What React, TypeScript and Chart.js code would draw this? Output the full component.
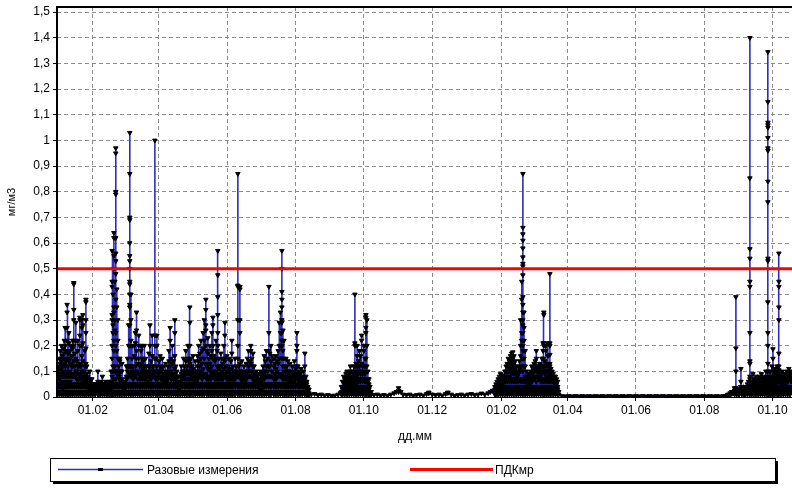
import React, { useEffect, useRef } from 'react';
import { Chart, registerables } from 'chart.js';

Chart.register(...registerables);

// Day 0 = 1 January of the first year
const xTickDays = [31, 90, 151, 212, 273, 334, 396, 455, 516, 577, 638];
const xTickLabels = ['01.02', '01.04', '01.06', '01.08', '01.10', '01.12', '01.02', '01.04', '01.06', '01.08', '01.10'];
const yTicks = [0, 0.1, 0.2, 0.3, 0.4, 0.5, 0.6, 0.7, 0.8, 0.9, 1, 1.1, 1.2, 1.3, 1.4, 1.5];
const pdkValue = 0.5;
const seriesLabel = 'Разовые измерения';
const pdkLabel = 'ПДКмр';

// rows: [day, measurement1, measurement2, ...]
const winter1: number[][] = [
  [-0.5, 0.01, 0.04, 0.07, 0.1, 0.05], [0.3, 0.02, 0.05, 0.09, 0.12, 0.08], [1.2, 0.01, 0.04, 0.07, 0.15, 0.11],
  [2, 0.02, 0.05, 0.09, 0.18, 0.13], [3, 0.01, 0.04, 0.08, 0.2, 0.14, 0.11], [3.8, 0.03, 0.06, 0.1, 0.16, 0.12],
  [4.6, 0.01, 0.04, 0.08, 0.19, 0.15], [5.5, 0.02, 0.05, 0.09, 0.22, 0.17, 0.13], [6.3, 0.01, 0.04, 0.08, 0.27, 0.2, 0.12],
  [7.2, 0.02, 0.06, 0.1, 0.18, 0.14], [8, 0.01, 0.04, 0.08, 0.36, 0.33, 0.27, 0.22, 0.15], [8.8, 0.02, 0.05, 0.09, 0.17, 0.12],
  [9.6, 0.01, 0.04, 0.08, 0.25, 0.21, 0.14], [10.5, 0.02, 0.06, 0.1, 0.18, 0.15], [11.3, 0.01, 0.04, 0.08, 0.2, 0.13],
  [12.2, 0.02, 0.05, 0.09, 0.16, 0.12], [13, 0.01, 0.04, 0.08, 0.22, 0.19, 0.12],
  [14, 0.02, 0.05, 0.09, 0.445, 0.44, 0.34, 0.3, 0.22, 0.2, 0.14], [14.9, 0.01, 0.04, 0.08, 0.17, 0.12],
  [15.8, 0.02, 0.05, 0.1, 0.29, 0.22, 0.15], [16.7, 0.01, 0.04, 0.07, 0.14, 0.1], [17.6, 0.02, 0.05, 0.09, 0.22, 0.18, 0.12],
  [18.5, 0.01, 0.04, 0.07, 0.12, 0.09], [19.4, 0.02, 0.05, 0.09, 0.31, 0.3, 0.24, 0.2, 0.13], [20.3, 0.01, 0.04, 0.07, 0.12, 0.09],
  [21.2, 0.02, 0.05, 0.1, 0.3, 0.27, 0.2, 0.16], [22.1, 0.01, 0.04, 0.08, 0.32, 0.28, 0.21, 0.14], [23, 0.02, 0.05, 0.08, 0.1, 0.06],
  [23.9, 0.01, 0.04, 0.07, 0.18, 0.12], [24.8, 0.02, 0.05, 0.09, 0.38, 0.37, 0.3, 0.25, 0.19, 0.13],
  [25.6, 0.01, 0.04, 0.07, 0.12, 0.09], [26.5, 0.02, 0.05, 0.08, 0.06], [27.4, 0.01, 0.03, 0.06, 0.04], [28.3, 0.02, 0.05, 0.1, 0.07],
  [29.2, 0.01, 0.03, 0.05, 0.03], [30.1, 0.02, 0.04, 0.07, 0.05],
  [31, 0.01, 0.03, 0.05, 0.02], [32, 0.02, 0.04, 0.05, 0.03], [33, 0.01, 0.03, 0.04, 0.02], [34, 0.02, 0.04, 0.05, 0.03],
  [35.5, 0.01, 0.03, 0.06, 0.1, 0.04], [36.5, 0.02, 0.04, 0.05, 0.03], [37.5, 0.01, 0.03, 0.04, 0.02], [38.5, 0.02, 0.04, 0.06, 0.03],
  [39.5, 0.01, 0.03, 0.05, 0.08, 0.04], [40.5, 0.02, 0.04, 0.05, 0.03], [41.5, 0.01, 0.03, 0.05, 0.02], [42.5, 0.02, 0.04, 0.06, 0.03],
  [43.5, 0.01, 0.03, 0.04, 0.02], [44.5, 0.02, 0.04, 0.05, 0.03], [45.5, 0.01, 0.03, 0.06, 0.04], [46.5, 0.02, 0.04, 0.05, 0.03],
  [47.3, 0.01, 0.03, 0.06, 0.1, 0.05],
];

const spring1: number[][] = [
  [48.2, 0.01, 0.04, 0.08, 0.2, 0.32, 0.43, 0.57, 0.45, 0.3, 0.15], [49, 0.02, 0.05, 0.12, 0.25, 0.4, 0.28, 0.1],
  [49.8, 0.01, 0.04, 0.07, 0.18, 0.33, 0.5, 0.64, 0.62, 0.55, 0.35, 0.22], [50.6, 0.02, 0.05, 0.1, 0.3, 0.45, 0.26, 0.12],
  [51.5, 0.01, 0.04, 0.07, 0.2, 0.53, 0.56, 0.62, 0.79, 0.8, 0.95, 0.97, 0.48, 0.38, 0.25, 0.1],
  [52.4, 0.02, 0.05, 0.09, 0.35, 0.42, 0.18], [53.3, 0.01, 0.04, 0.1, 0.22, 0.3, 0.15], [54.2, 0.02, 0.05, 0.08, 0.12, 0.09],
  [55.1, 0.01, 0.04, 0.07, 0.15, 0.14, 0.1], [56, 0.02, 0.05, 0.1, 0.06], [57, 0.01, 0.04, 0.07, 0.13, 0.1], [58, 0.02, 0.04, 0.06],
  [59, 0.01, 0.03, 0.05, 0.04], [60, 0.02, 0.04, 0.06], [61, 0.01, 0.04, 0.07, 0.12, 0.08], [62, 0.02, 0.05, 0.1, 0.15, 0.12],
  [63, 0.01, 0.04, 0.08, 0.2, 0.28, 0.12],
  [64, 0.02, 0.05, 0.09, 0.35, 0.36, 0.44, 0.45, 0.5, 0.53, 0.55, 0.6, 0.69, 0.7, 0.87, 1.03, 0.4, 0.28, 0.2, 0.12],
  [65, 0.01, 0.04, 0.08, 0.3, 0.4, 0.22, 0.12], [66, 0.02, 0.05, 0.1, 0.15, 0.2, 0.12], [67, 0.01, 0.04, 0.07, 0.12, 0.09],
  [68, 0.02, 0.05, 0.1, 0.2, 0.16], [69, 0.01, 0.04, 0.08, 0.25, 0.21, 0.12], [70, 0.02, 0.05, 0.09, 0.18, 0.33, 0.26, 0.15],
  [71, 0.01, 0.04, 0.07, 0.13, 0.1], [72, 0.02, 0.05, 0.09, 0.2, 0.24, 0.15], [73, 0.01, 0.04, 0.07, 0.12, 0.09],
  [74, 0.02, 0.05, 0.08, 0.18, 0.2, 0.13], [75, 0.01, 0.04, 0.07, 0.2, 0.15, 0.1], [76, 0.02, 0.05, 0.09, 0.14, 0.11],
  [77, 0.01, 0.04, 0.07, 0.2, 0.12], [78, 0.02, 0.05, 0.08, 0.15, 0.1], [79, 0.01, 0.04, 0.07, 0.12, 0.09],
  [80, 0.02, 0.05, 0.08, 0.1, 0.06], [81, 0.01, 0.04, 0.08, 0.17, 0.12], [82, 0.02, 0.05, 0.1, 0.28, 0.2, 0.12],
  [83, 0.01, 0.04, 0.07, 0.14, 0.09], [84, 0.02, 0.05, 0.1, 0.24, 0.16, 0.12], [85, 0.01, 0.04, 0.08, 0.12, 0.09],
  [86.4, 0.02, 0.05, 0.08, 0.2, 1.0, 0.24, 0.15, 0.1], [87.3, 0.01, 0.04, 0.07, 0.15, 0.1], [88.2, 0.02, 0.05, 0.08, 0.24, 0.2, 0.12],
  [89, 0.01, 0.04, 0.07, 0.1, 0.08], [90, 0.02, 0.05, 0.09, 0.14, 0.1], [91, 0.01, 0.04, 0.08, 0.16, 0.12], [92, 0.02, 0.05, 0.1, 0.07],
  [93, 0.01, 0.04, 0.07, 0.15, 0.11], [94, 0.02, 0.05, 0.08, 0.12, 0.09], [95, 0.01, 0.04, 0.06, 0.09, 0.07],
  [96, 0.02, 0.05, 0.08, 0.13, 0.1], [97, 0.01, 0.04, 0.06, 0.08, 0.05], [98, 0.02, 0.05, 0.07, 0.12, 0.09],
  [99, 0.01, 0.04, 0.08, 0.18, 0.14, 0.1], [100, 0.02, 0.05, 0.09, 0.27, 0.22, 0.12], [101, 0.01, 0.04, 0.07, 0.15, 0.1],
  [102, 0.02, 0.05, 0.08, 0.2, 0.13], [103, 0.01, 0.04, 0.07, 0.14, 0.09], [104.2, 0.02, 0.05, 0.09, 0.3, 0.25, 0.16, 0.11],
  [105, 0.01, 0.04, 0.07, 0.12, 0.08], [106, 0.02, 0.05, 0.08, 0.1, 0.06], [107, 0.01, 0.04, 0.06, 0.08, 0.05],
  [108, 0.02, 0.04, 0.06, 0.03], [109, 0.01, 0.04, 0.06, 0.08, 0.05], [110, 0.02, 0.05, 0.08, 0.12, 0.09],
  [111, 0.01, 0.04, 0.07, 0.1, 0.08], [112, 0.02, 0.05, 0.08, 0.15, 0.1],
];

const summer1: number[][] = [
  [113, 0.01, 0.04, 0.07, 0.12, 0.09], [114, 0.02, 0.05, 0.09, 0.18, 0.14, 0.1], [115, 0.01, 0.04, 0.07, 0.12, 0.1],
  [116, 0.02, 0.05, 0.09, 0.2, 0.15], [117, 0.01, 0.04, 0.07, 0.14, 0.1], [117.6, 0.02, 0.05, 0.09, 0.13, 0.29, 0.35, 0.2, 0.12],
  [118.5, 0.01, 0.04, 0.07, 0.15, 0.1], [119.5, 0.02, 0.05, 0.08, 0.12, 0.09], [120.5, 0.01, 0.04, 0.07, 0.16, 0.11],
  [121.5, 0.02, 0.05, 0.08, 0.1, 0.07], [122.5, 0.01, 0.04, 0.07, 0.14, 0.09], [123.5, 0.02, 0.05, 0.08, 0.1, 0.06],
  [124.5, 0.01, 0.04, 0.07, 0.16, 0.12], [125.5, 0.02, 0.05, 0.09, 0.2, 0.14, 0.1], [126.5, 0.01, 0.04, 0.08, 0.17, 0.12],
  [127.5, 0.02, 0.05, 0.09, 0.22, 0.15, 0.1], [128.5, 0.01, 0.04, 0.07, 0.18, 0.13], [129.5, 0.02, 0.05, 0.09, 0.25, 0.19, 0.11],
  [130.5, 0.01, 0.04, 0.08, 0.3, 0.22, 0.15], [131.9, 0.02, 0.05, 0.09, 0.28, 0.34, 0.38, 0.26, 0.2, 0.13],
  [132.8, 0.01, 0.04, 0.07, 0.18, 0.12], [133.7, 0.02, 0.05, 0.08, 0.23, 0.17, 0.11], [134.6, 0.01, 0.04, 0.07, 0.15, 0.11],
  [135.5, 0.02, 0.05, 0.08, 0.2, 0.13], [136.4, 0.01, 0.04, 0.07, 0.16, 0.1], [137.3, 0.02, 0.05, 0.09, 0.25, 0.18, 0.12],
  [138.2, 0.01, 0.04, 0.08, 0.2, 0.31, 0.28, 0.15], [139.1, 0.02, 0.05, 0.08, 0.16, 0.1], [140, 0.01, 0.04, 0.07, 0.14, 0.09],
  [141, 0.02, 0.05, 0.08, 0.22, 0.15, 0.1], [142, 0.01, 0.04, 0.07, 0.18, 0.12],
  [142.6, 0.02, 0.05, 0.09, 0.25, 0.39, 0.475, 0.57, 0.32, 0.2, 0.12], [143.5, 0.01, 0.04, 0.07, 0.15, 0.11],
  [144.4, 0.02, 0.05, 0.08, 0.12, 0.09], [145.3, 0.01, 0.04, 0.07, 0.17, 0.12], [146.2, 0.02, 0.05, 0.08, 0.15, 0.1],
  [147.1, 0.01, 0.04, 0.07, 0.13, 0.09], [148, 0.02, 0.05, 0.09, 0.2, 0.15, 0.11], [148.9, 0.01, 0.04, 0.08, 0.29, 0.24, 0.14],
  [149.8, 0.02, 0.05, 0.08, 0.12, 0.09], [150.7, 0.01, 0.04, 0.07, 0.16, 0.1], [151.6, 0.02, 0.05, 0.08, 0.12, 0.07],
  [152.5, 0.01, 0.04, 0.07, 0.15, 0.1], [153.4, 0.02, 0.05, 0.08, 0.11, 0.07], [154.3, 0.01, 0.04, 0.07, 0.14, 0.09],
  [155.1, 0.02, 0.05, 0.09, 0.22, 0.17, 0.11], [156, 0.01, 0.04, 0.07, 0.12, 0.08], [157, 0.02, 0.05, 0.08, 0.1, 0.07],
  [158, 0.01, 0.04, 0.07, 0.15, 0.1], [159, 0.02, 0.05, 0.08, 0.12, 0.09],
  [160.5, 0.01, 0.04, 0.08, 0.2, 0.43, 0.435, 0.87, 0.3, 0.15, 0.1], [161.4, 0.02, 0.05, 0.08, 0.12, 0.09],
  [162.3, 0.01, 0.04, 0.08, 0.25, 0.43, 0.42, 0.3, 0.13], [163.2, 0.02, 0.05, 0.08, 0.1, 0.07], [164, 0.01, 0.04, 0.07, 0.14, 0.1],
  [165, 0.02, 0.05, 0.07, 0.09, 0.06], [166, 0.01, 0.04, 0.07, 0.12, 0.08], [167, 0.02, 0.05, 0.07, 0.1, 0.06],
  [168, 0.01, 0.04, 0.07, 0.13, 0.09], [169, 0.02, 0.05, 0.08, 0.15, 0.1], [170, 0.01, 0.04, 0.08, 0.18, 0.12],
  [171, 0.02, 0.05, 0.08, 0.14, 0.1], [172, 0.01, 0.04, 0.08, 0.18, 0.2, 0.13], [173, 0.02, 0.05, 0.08, 0.15, 0.1],
  [174, 0.01, 0.04, 0.07, 0.17, 0.12], [175, 0.02, 0.05, 0.08, 0.12, 0.09], [176, 0.01, 0.04, 0.06, 0.09, 0.06],
  [177, 0.02, 0.05, 0.07, 0.1, 0.07], [178, 0.01, 0.04, 0.06, 0.08, 0.05], [179, 0.02, 0.05, 0.07, 0.09, 0.06],
  [180, 0.01, 0.03, 0.05, 0.07], [181, 0.02, 0.04, 0.06, 0.1, 0.07], [182, 0.01, 0.03, 0.05, 0.08],
  [183, 0.02, 0.05, 0.08, 0.12, 0.09], [184, 0.01, 0.04, 0.07, 0.16, 0.1], [185, 0.02, 0.05, 0.08, 0.14, 0.1],
  [186, 0.01, 0.04, 0.08, 0.18, 0.12], [187, 0.02, 0.05, 0.08, 0.15, 0.1], [188.2, 0.01, 0.04, 0.08, 0.25, 0.43, 0.18, 0.12],
  [189, 0.02, 0.05, 0.08, 0.17, 0.12], [190, 0.01, 0.04, 0.08, 0.2, 0.14], [191, 0.02, 0.05, 0.08, 0.16, 0.1],
  [192.6, 0.01, 0.04, 0.07, 0.15, 0.12], [193.5, 0.02, 0.05, 0.08, 0.13, 0.09], [194.5, 0.01, 0.04, 0.07, 0.16, 0.11],
  [195.5, 0.02, 0.05, 0.08, 0.14, 0.1], [196.5, 0.01, 0.04, 0.08, 0.18, 0.13], [197.5, 0.02, 0.05, 0.09, 0.2, 0.29, 0.15],
  [198.5, 0.01, 0.04, 0.08, 0.25, 0.33, 0.2],
  [199.8, 0.02, 0.05, 0.09, 0.2, 0.25, 0.29, 0.35, 0.41, 0.5, 0.57, 0.38, 0.3, 0.22, 0.15],
  [200.7, 0.01, 0.04, 0.07, 0.18, 0.26, 0.12], [201.6, 0.02, 0.05, 0.08, 0.15, 0.22, 0.1], [202.5, 0.01, 0.04, 0.07, 0.12, 0.08],
  [203.4, 0.02, 0.05, 0.08, 0.15, 0.1], [204.3, 0.01, 0.04, 0.07, 0.12, 0.08], [205.2, 0.02, 0.05, 0.08, 0.14, 0.1],
  [206, 0.01, 0.04, 0.07, 0.1, 0.06], [207, 0.02, 0.05, 0.08, 0.13, 0.09], [208, 0.01, 0.04, 0.07, 0.1, 0.06],
  [209, 0.02, 0.05, 0.08, 0.12, 0.08], [210, 0.01, 0.04, 0.06, 0.09, 0.06], [211, 0.02, 0.05, 0.08, 0.14, 0.1],
  [212, 0.01, 0.04, 0.07, 0.11, 0.08], [213.2, 0.02, 0.05, 0.09, 0.18, 0.25, 0.2, 0.12], [214.1, 0.01, 0.04, 0.07, 0.12, 0.08],
  [215, 0.02, 0.05, 0.07, 0.1, 0.06], [216, 0.01, 0.04, 0.06, 0.09, 0.06], [217, 0.02, 0.05, 0.08, 0.11, 0.07],
  [218, 0.01, 0.04, 0.06, 0.08, 0.05], [219, 0.02, 0.04, 0.07, 0.1, 0.05], [220.3, 0.01, 0.04, 0.07, 0.17, 0.12, 0.06],
  [221.2, 0.02, 0.04, 0.06, 0.08, 0.05], [222, 0.01, 0.03, 0.05, 0.06, 0.04], [223, 0.02, 0.03, 0.04, 0.01],
  [224, 0.015, 0.03, 0.01],
];

const lateSummer1: number[][] = [
  [226, 0.01], [229, 0.012], [232, 0.008], [235, 0.01], [238, 0.006], [241, 0.008], [244, 0.005], [247, 0.006],
  [250, 0.01], [252, 0.015],
];

const autumn1: number[][] = [
  [253, 0.01, 0.02, 0.04], [254, 0.01, 0.03, 0.06, 0.04], [255, 0.02, 0.04, 0.06, 0.08], [256, 0.01, 0.03, 0.05, 0.07],
  [257, 0.02, 0.04, 0.06, 0.09, 0.07], [258, 0.01, 0.03, 0.05, 0.08, 0.1], [259, 0.02, 0.04, 0.06, 0.08],
  [260, 0.01, 0.03, 0.05, 0.07, 0.09], [261, 0.02, 0.04, 0.06, 0.08, 0.12, 0.1], [262, 0.01, 0.03, 0.05, 0.07, 0.1],
  [263, 0.02, 0.04, 0.06, 0.08], [264, 0.01, 0.03, 0.05, 0.07, 0.12, 0.09], [265, 0.02, 0.04, 0.06, 0.09, 0.2, 0.4, 0.21, 0.12],
  [266, 0.01, 0.03, 0.05, 0.08, 0.13, 0.1], [267, 0.02, 0.04, 0.07, 0.16, 0.2, 0.12], [268, 0.01, 0.03, 0.06, 0.09, 0.14, 0.1],
  [269, 0.02, 0.04, 0.07, 0.18, 0.12], [270, 0.01, 0.03, 0.06, 0.09, 0.16, 0.1], [271, 0.02, 0.04, 0.07, 0.22, 0.24, 0.13],
  [272, 0.01, 0.03, 0.06, 0.09, 0.12], [273, 0.02, 0.04, 0.07, 0.2, 0.18, 0.1], [274, 0.01, 0.03, 0.06, 0.09, 0.15, 0.12],
  [274.8, 0.02, 0.04, 0.07, 0.25, 0.31, 0.32, 0.27, 0.15], [275.7, 0.01, 0.03, 0.06, 0.2, 0.3, 0.12],
  [276.6, 0.02, 0.04, 0.07, 0.1, 0.06], [277.5, 0.01, 0.03, 0.05, 0.07], [278.4, 0.02, 0.04, 0.01], [279.5, 0.01, 0.02],
];

const winter2: number[][] = [
  [282, 0.008], [285, 0.01], [288, 0.006], [291, 0.008], [294, 0.005], [297, 0.01], [300, 0.015], [302, 0.02],
  [304, 0.025, 0.035, 0.02], [306, 0.02], [308, 0.01], [311, 0.008], [314, 0.01], [317, 0.005], [320, 0.008],
  [323, 0.01], [326, 0.006], [329, 0.012], [331, 0.018, 0.015], [334, 0.01], [337, 0.008], [340, 0.01], [343, 0.006],
  [346, 0.012], [348, 0.018, 0.016], [351, 0.01], [354, 0.005], [357, 0.008], [360, 0.01], [363, 0.006], [366, 0.01],
  [369, 0.012], [372, 0.008], [375, 0.01], [378, 0.014], [381, 0.01], [384, 0.015], [386, 0.02], [388, 0.025],
  [390, 0.01, 0.03, 0.04],
];

const spring2: number[][] = [
  [391, 0.01, 0.03, 0.05, 0.04], [392, 0.02, 0.04, 0.06], [393, 0.01, 0.03, 0.05, 0.07], [394, 0.02, 0.04, 0.06, 0.08],
  [395, 0.01, 0.03, 0.05, 0.07, 0.09], [396, 0.02, 0.04, 0.06, 0.08], [397, 0.01, 0.03, 0.05, 0.07, 0.085],
  [398, 0.02, 0.04, 0.06, 0.07], [399, 0.01, 0.03, 0.06, 0.08, 0.1], [400, 0.02, 0.04, 0.07, 0.1, 0.12],
  [401, 0.01, 0.03, 0.06, 0.08, 0.13, 0.1], [402, 0.02, 0.04, 0.07, 0.1, 0.15, 0.12], [403, 0.01, 0.03, 0.06, 0.08, 0.14, 0.11],
  [404, 0.02, 0.04, 0.07, 0.1, 0.16, 0.13], [405, 0.01, 0.03, 0.06, 0.09, 0.12, 0.17, 0.14],
  [406, 0.02, 0.04, 0.07, 0.1, 0.175, 0.15, 0.12], [407, 0.01, 0.03, 0.06, 0.09, 0.16, 0.13], [408, 0.02, 0.04, 0.07, 0.1, 0.14, 0.11],
  [409, 0.01, 0.03, 0.06, 0.09, 0.12], [410, 0.02, 0.04, 0.07, 0.1, 0.08], [411, 0.01, 0.03, 0.06, 0.09, 0.12],
  [412, 0.02, 0.04, 0.07, 0.1, 0.14, 0.11], [413, 0.01, 0.03, 0.06, 0.1, 0.2, 0.3, 0.16], [414, 0.02, 0.04, 0.07, 0.12, 0.25, 0.38, 0.45, 0.22],
  [415, 0.01, 0.03, 0.06, 0.1, 0.15, 0.2, 0.25, 0.28, 0.33, 0.36, 0.39, 0.475, 0.51, 0.52, 0.545, 0.58, 0.61, 0.635, 0.66, 0.87, 0.3, 0.18],
  [416, 0.02, 0.04, 0.07, 0.12, 0.22, 0.33, 0.27, 0.15], [417, 0.01, 0.03, 0.06, 0.08, 0.18, 0.12], [418, 0.02, 0.04, 0.06, 0.1, 0.07],
  [419, 0.01, 0.03, 0.05, 0.08, 0.06], [420, 0.02, 0.04, 0.06, 0.09, 0.07], [421, 0.01, 0.03, 0.05, 0.08, 0.06],
  [422, 0.02, 0.04, 0.07, 0.1, 0.08], [423, 0.01, 0.03, 0.06, 0.12, 0.09], [424, 0.02, 0.04, 0.08, 0.11, 0.07],
  [425, 0.01, 0.03, 0.07, 0.13, 0.1], [426, 0.02, 0.04, 0.08, 0.14, 0.11], [427, 0.01, 0.03, 0.06, 0.1, 0.18, 0.15, 0.12],
  [428, 0.02, 0.04, 0.08, 0.12, 0.1], [429, 0.01, 0.03, 0.07, 0.1, 0.08], [430, 0.02, 0.04, 0.09, 0.13, 0.11],
  [431, 0.01, 0.03, 0.06, 0.08, 0.12, 0.09], [432, 0.02, 0.04, 0.07, 0.1, 0.15, 0.12], [433, 0.01, 0.03, 0.06, 0.12, 0.18, 0.21, 0.15],
  [433.7, 0.02, 0.04, 0.07, 0.1, 0.2, 0.32, 0.33, 0.21, 0.12], [434.6, 0.01, 0.03, 0.06, 0.09, 0.14, 0.12],
  [435.5, 0.02, 0.04, 0.07, 0.1, 0.2, 0.18, 0.13], [436.4, 0.01, 0.03, 0.06, 0.08, 0.12, 0.1],
  [437.3, 0.02, 0.04, 0.07, 0.1, 0.16, 0.21, 0.13], [438.2, 0.01, 0.03, 0.06, 0.09, 0.12, 0.1],
  [439.1, 0.02, 0.04, 0.07, 0.1, 0.13, 0.165, 0.21, 0.48, 0.2, 0.12], [440, 0.01, 0.03, 0.06, 0.08, 0.11, 0.09],
  [441, 0.02, 0.04, 0.07, 0.1, 0.08], [442, 0.01, 0.03, 0.06, 0.09, 0.07], [443, 0.02, 0.04, 0.07, 0.08, 0.06],
  [444, 0.01, 0.03, 0.05, 0.08, 0.06], [445, 0.02, 0.04, 0.06, 0.07, 0.05], [446, 0.01, 0.03, 0.04, 0.06, 0.03], [447, 0.02, 0.01],
];

const summer2: number[][] = [
  [450, 0.004], [453, 0.003], [456, 0.004], [459, 0.003], [462, 0.004], [465, 0.003], [468, 0.004], [471, 0.003],
  [474, 0.004], [477, 0.003], [480, 0.004], [483, 0.003], [486, 0.004], [489, 0.003], [492, 0.004], [495, 0.003],
  [498, 0.004], [501, 0.003], [504, 0.004], [507, 0.003], [510, 0.004], [513, 0.003], [516, 0.004], [519, 0.003],
  [522, 0.004], [525, 0.003], [528, 0.004], [531, 0.003], [534, 0.004], [537, 0.003], [540, 0.004], [543, 0.003],
  [546, 0.004], [549, 0.003], [552, 0.004], [555, 0.003], [558, 0.004], [561, 0.003], [564, 0.004], [567, 0.003],
  [570, 0.004], [573, 0.003], [576, 0.004], [579, 0.003], [582, 0.004], [585, 0.003], [588, 0.004], [591, 0.003],
  [594, 0.004], [596, 0.005],
];

const autumn2: number[][] = [
  [598, 0.006, 0.01], [600, 0.01, 0.015], [601.5, 0.012, 0.02, 0.015], [603, 0.015, 0.02], [604, 0.01, 0.02, 0.035, 0.025],
  [605.2, 0.02, 0.035, 0.19, 0.39, 0.1, 0.03], [606, 0.01, 0.02, 0.03], [607, 0.015, 0.025], [608, 0.01, 0.02, 0.03],
  [609.7, 0.02, 0.04, 0.06, 0.11, 0.04], [610.5, 0.01, 0.02, 0.03], [611.5, 0.015, 0.025, 0.02], [612.5, 0.01, 0.02, 0.03],
  [613.5, 0.01, 0.025, 0.04, 0.03], [614.5, 0.02, 0.035], [615.5, 0.01, 0.03, 0.05, 0.04], [616.5, 0.02, 0.03, 0.06, 0.04],
  [617.7, 0.01, 0.02, 0.04, 0.07, 0.08, 0.13, 0.14, 0.25, 0.43, 0.45, 0.54, 0.577, 0.853, 1.4, 0.05],
  [618.6, 0.02, 0.03, 0.05, 0.04], [619.5, 0.01, 0.03, 0.04, 0.06, 0.035], [620.4, 0.02, 0.03, 0.05, 0.09, 0.05],
  [621.3, 0.01, 0.03, 0.04, 0.07, 0.05], [622.2, 0.02, 0.03, 0.06, 0.04], [623.1, 0.01, 0.03, 0.04, 0.08, 0.05],
  [624, 0.02, 0.03, 0.05, 0.04], [625, 0.01, 0.03, 0.04, 0.07, 0.05], [626, 0.02, 0.04, 0.05, 0.08, 0.06],
  [627, 0.01, 0.03, 0.04, 0.06, 0.05], [628, 0.02, 0.04, 0.05, 0.09, 0.07], [629, 0.01, 0.03, 0.04, 0.07, 0.05],
  [630, 0.02, 0.04, 0.05, 0.08, 0.06], [631, 0.01, 0.03, 0.04, 0.07, 0.05], [632, 0.02, 0.04, 0.06, 0.1, 0.07],
  [633, 0.01, 0.03, 0.05, 0.08],
  [633.8, 0.02, 0.04, 0.05, 0.07, 0.13, 0.2, 0.25, 0.37, 0.53, 0.54, 0.76, 0.84, 0.96, 0.97, 1.01, 1.05, 1.06, 1.07, 1.15, 1.345, 0.1],
  [634.7, 0.01, 0.03, 0.05, 0.08, 0.06], [635.6, 0.02, 0.04, 0.06, 0.1, 0.07], [636.5, 0.01, 0.03, 0.05, 0.08, 0.06],
  [637.4, 0.02, 0.04, 0.07, 0.12, 0.08], [638.3, 0.01, 0.03, 0.06, 0.15, 0.187, 0.1], [639.2, 0.02, 0.04, 0.05, 0.09, 0.07],
  [640, 0.01, 0.03, 0.06, 0.11, 0.08], [641, 0.02, 0.04, 0.05, 0.1, 0.07], [642, 0.01, 0.03, 0.07, 0.12, 0.09],
  [643, 0.02, 0.04, 0.06, 0.09, 0.07], [643.6, 0.01, 0.03, 0.08, 0.105, 0.17, 0.3, 0.35, 0.43, 0.45, 0.56, 0.12],
  [644.5, 0.02, 0.04, 0.06, 0.09, 0.07], [645.5, 0.01, 0.03, 0.05, 0.08, 0.06], [646.5, 0.02, 0.04, 0.06, 0.1, 0.07],
  [647.5, 0.01, 0.03, 0.05, 0.08, 0.06], [648.5, 0.02, 0.04, 0.06, 0.09, 0.07], [649.5, 0.01, 0.03, 0.05, 0.08, 0.06],
  [650.5, 0.02, 0.04, 0.07, 0.1, 0.08], [651.5, 0.01, 0.03, 0.06, 0.09, 0.07], [652.5, 0.02, 0.04, 0.08, 0.11, 0.09],
  [653.5, 0.01, 0.03, 0.07, 0.1, 0.08], [654.5, 0.02, 0.04, 0.06, 0.09, 0.07],
];

const allRows = [winter1, spring1, summer1, lateSummer1, autumn1, winter2, spring2, summer2, autumn2];

const X_MIN = -1;
const X_MAX = 655.3;
const Y_MAX = 1.52;
const FONT = '"Liberation Sans", Arial, sans-serif';

const decorations = {
  id: 'decorations',
  afterDraw(chart: any) {
    const { ctx, chartArea } = chart;
    const { left, top, right, bottom } = chartArea;
    ctx.save();
    ctx.strokeStyle = '#000';
    ctx.lineWidth = 2;
    ctx.beginPath();
    ctx.moveTo(left, bottom + 1);
    ctx.lineTo(left, top);
    ctx.lineTo(right, top);
    ctx.stroke();

    ctx.fillStyle = '#000';
    ctx.font = `11px ${FONT}`;
    ctx.textAlign = 'center';
    ctx.textBaseline = 'middle';
    ctx.save();
    ctx.translate(12, (top + bottom) / 2);
    ctx.rotate(-Math.PI / 2);
    ctx.fillText('мг/м3', 0, 0);
    ctx.restore();
    ctx.font = `12px ${FONT}`;
    ctx.fillText('дд.мм', 415, 437);

    const bx = 50, by = 458, bw = 725, bh = 23;
    ctx.fillStyle = '#000';
    ctx.fillRect(bx + 3, by + 3, bw, bh);
    ctx.fillStyle = '#fff';
    ctx.fillRect(bx, by, bw, bh);
    ctx.strokeStyle = '#000';
    ctx.lineWidth = 1;
    ctx.strokeRect(bx + 0.5, by + 0.5, bw, bh);
    const ly = by + bh / 2;
    ctx.strokeStyle = '#2e2eb8';
    ctx.lineWidth = 1.5;
    ctx.beginPath();
    ctx.moveTo(58, ly);
    ctx.lineTo(143, ly);
    ctx.stroke();
    ctx.fillStyle = '#000';
    ctx.fillRect(98, ly - 1.5, 5, 3);
    ctx.strokeStyle = '#ff0000';
    ctx.lineWidth = 3;
    ctx.beginPath();
    ctx.moveTo(410, ly);
    ctx.lineTo(493, ly);
    ctx.stroke();
    ctx.fillStyle = '#000';
    ctx.font = `12px ${FONT}`;
    ctx.textAlign = 'left';
    ctx.fillText(seriesLabel, 147, ly + 1);
    ctx.fillText(pdkLabel, 495, ly + 1);
    ctx.restore();
  },
};

export default function App() {
  const canvasRef = useRef<HTMLCanvasElement | null>(null);

  useEffect(() => {
    const canvas = canvasRef.current;
    if (!canvas) return;
    const points = allRows.flatMap((rows) =>
      rows.flatMap(([d, ...vs]) => vs.map((v) => ({ x: d, y: v })))
    );
    const chart = new Chart(canvas, {
      type: 'line',
      data: {
        datasets: [
          {
            label: pdkLabel,
            data: [
              { x: X_MIN, y: pdkValue },
              { x: X_MAX, y: pdkValue },
            ],
            borderColor: '#ff0000',
            borderWidth: 3,
            pointRadius: 0,
            pointHoverRadius: 0,
            order: 0,
          },
          {
            label: seriesLabel,
            data: points,
            borderColor: '#2e2eb8',
            borderWidth: 1.6,
            pointStyle: 'triangle',
            rotation: 180,
            pointRadius: 2.6,
            pointHoverRadius: 0,
            pointBackgroundColor: '#000',
            pointBorderColor: '#000',
            pointBorderWidth: 1,
            tension: 0,
            order: 1,
          },
        ],
      },
      options: {
        responsive: false,
        animation: false,
        devicePixelRatio: 1,
        events: [],
        layout: { autoPadding: false, padding: { top: 7, left: 0, right: 0, bottom: 0 } },
        plugins: { legend: { display: false }, tooltip: { enabled: false } },
        scales: {
          x: {
            type: 'linear',
            min: X_MIN,
            max: X_MAX,
            afterBuildTicks: (scale: any) => {
              scale.ticks = xTickDays.map((v) => ({ value: v }));
            },
            afterFit: (scale: any) => {
              scale.height = 92;
              scale.paddingLeft = 0;
              scale.paddingRight = 0;
            },
            ticks: {
              autoSkip: false,
              maxRotation: 0,
              padding: 2,
              color: '#000',
              font: { family: FONT, size: 12 },
              callback: (value: any) => {
                const i = xTickDays.indexOf(Number(value));
                return i >= 0 ? xTickLabels[i] : '';
              },
            },
            grid: {
              color: '#8c8c8c',
              lineWidth: 1,
              drawTicks: true,
              tickLength: 4,
              tickColor: '#000',
            },
            border: { display: true, color: '#000', width: 1, dash: [4, 3] },
          },
          y: {
            type: 'linear',
            min: 0,
            max: Y_MAX,
            afterBuildTicks: (scale: any) => {
              scale.ticks = yTicks.map((v) => ({ value: v }));
            },
            afterFit: (scale: any) => {
              scale.width = 57;
              scale.paddingTop = 0;
              scale.paddingBottom = 0;
            },
            ticks: {
              padding: 3,
              color: '#000',
              font: { family: FONT, size: 12 },
              callback: (value: any) => String(value).replace('.', ','),
            },
            grid: {
              color: '#8c8c8c',
              lineWidth: 1,
              drawTicks: true,
              tickLength: 4,
              tickColor: '#000',
            },
            border: { display: false, dash: [4, 3] },
          },
        },
      },
      plugins: [decorations],
    });
    return () => chart.destroy();
  }, []);

  return (
    <div style={{ position: 'absolute', left: 0, top: 0, width: 792, height: 489, background: '#fff' }}>
      <canvas ref={canvasRef} width={792} height={489} />
    </div>
  );
}
